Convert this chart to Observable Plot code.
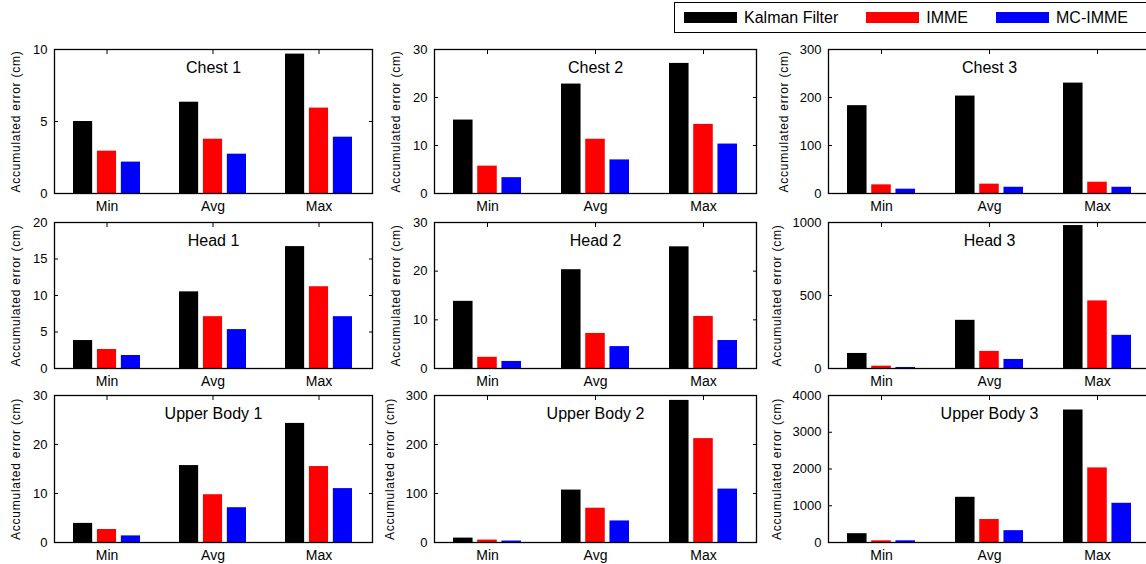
<!DOCTYPE html>
<html><head><meta charset="utf-8">
<script src="https://cdn.jsdelivr.net/npm/d3@7"></script>
<script src="https://cdn.jsdelivr.net/npm/@observablehq/plot@0.6"></script>
<style>
html,body{margin:0;padding:0;background:#fff;overflow:hidden;}
#root{position:relative;width:1146px;height:564px;overflow:hidden;font-family:"Liberation Sans",Arial,sans-serif;color:#000;background:#fff;}
.panel{position:absolute;}
.panel svg{overflow:visible;background:transparent;max-width:none !important;}
#legend{position:absolute;left:674px;top:2px;width:490px;height:31px;border:1px solid #000;box-sizing:border-box;display:flex;align-items:center;padding-left:9px;font-size:16px;background:#fff;}
.item{display:flex;align-items:center;margin-right:28px;white-space:nowrap;}
.sw{width:53px;height:11px;margin-right:7px;}
.ylab text{letter-spacing:0.75px;}
</style></head>
<body><div id="root"><div id="legend"></div></div>
<script>
// ---------- data ----------
const categories = ["Min", "Avg", "Max"];
const series = ["Kalman Filter", "IMME", "MC-IMME"];
const colors = ["#000000", "#ff0000", "#0000ff"];
const titles = ["Chest 1", "Chest 2", "Chest 3", "Head 1", "Head 2", "Head 3", "Upper Body 1", "Upper Body 2", "Upper Body 3"];
const yLabel = "Accumulated error (cm)";

// values: one row per series (Kalman, IMME, MC-IMME), columns Min/Avg/Max
const chest1 = [[5.0, 6.34, 9.68], [2.94, 3.77, 5.93], [2.18, 2.73, 3.91]];
const chest2 = [[15.3, 22.8, 27.1], [5.7, 11.3, 14.4], [3.3, 7.0, 10.3]];
const chest3 = [[183, 203, 230], [18, 19.5, 23.5], [9, 13, 13]];
const head1 = [[3.83, 10.5, 16.7], [2.6, 7.1, 11.2], [1.78, 5.33, 7.1]];
const head2 = [[13.8, 20.3, 25.0], [2.3, 7.2, 10.7], [1.45, 4.5, 5.75]];
const head3 = [[103, 330, 979], [16, 117, 463], [7, 62, 227]];
const upper1 = [[3.9, 15.7, 24.3], [2.65, 9.75, 15.5], [1.35, 7.1, 11.0]];
const upper2 = [[9, 107, 290], [5, 70, 212], [3, 44, 109]];
const upper3 = [[240, 1230, 3605], [46, 625, 2030], [46, 322, 1067]];
const panelValues = [chest1, chest2, chest3, head1, head2, head3, upper1, upper2, upper3];

const ticks1 = [0, 5, 10];
const ticks2 = [0, 10, 20, 30];
const ticks3 = [0, 100, 200, 300];
const ticks4 = [0, 5, 10, 15, 20];
const ticks5 = [0, 10, 20, 30];
const ticks6 = [0, 500, 1000];
const ticks7 = [0, 10, 20, 30];
const ticks8 = [0, 100, 200, 300];
const ticks9 = [0, 1000, 2000, 3000, 4000];
const panelTicks = [ticks1, ticks2, ticks3, ticks4, ticks5, ticks6, ticks7, ticks8, ticks9];

// ---------- layout ----------
const cols = [{left: 54, width: 318}, {left: 434, width: 322}, {left: 828, width: 322}];
const rows = [{top: 49, height: 144}, {top: 222, height: 146}, {top: 395, height: 147}];
const M = {left: 60, right: 6, top: 6, bottom: 26};
const padInner = 0.366, padOuter = 0.17;

const root = document.getElementById("root");

// legend
const legend = document.getElementById("legend");
series.forEach((s, i) => {
  const item = document.createElement("div");
  item.className = "item";
  const sw = document.createElement("div");
  sw.className = "sw";
  sw.style.background = colors[i];
  const t = document.createElement("span");
  t.textContent = s;
  item.appendChild(sw); item.appendChild(t);
  legend.appendChild(item);
});

const fmt = d => String(d);
const blank = () => "";

titles.forEach((title, p) => {
  const col = cols[p % 3], row = rows[Math.floor(p / 3)];
  const values = panelValues[p], ticks = panelTicks[p];
  const data = [];
  series.forEach((s, i) => categories.forEach((c, j) => data.push({series: s, category: c, value: values[i][j]})));
  const bw = col.width / (categories.length - padInner + 2 * padOuter) * (1 - padInner);
  const unit = bw / (3 * 20 + 2 * 4);
  const step = unit * 24;
  const maxLen = d3.max(ticks, t => String(t).length);
  const bars = series.map((s, i) => Plot.barY(data.filter(d => d.series === s), {
    x: "category", y: "value", fill: colors[i],
    insetLeft: i * step, insetRight: (series.length - 1 - i) * step
  }));
  const W = col.width + M.left + M.right, H = row.height + M.top + M.bottom;
  const chart = Plot.plot({
    width: W, height: H,
    marginLeft: M.left, marginRight: M.right, marginTop: M.top, marginBottom: M.bottom,
    style: {fontFamily: '"Liberation Sans", Arial, sans-serif', fontSize: "13px", color: "#000", background: "transparent", overflow: "visible"},
    x: {domain: categories, paddingInner: padInner, paddingOuter: padOuter, label: null, axis: null},
    y: {domain: [0, d3.max(ticks)], label: null, axis: null},
    marks: [
      ...bars,
      Plot.frame({stroke: "#000", strokeWidth: 1.3}),
      Plot.axisY(ticks, {anchor: "left", tickSize: 0, tickPadding: 7, tickFormat: fmt, label: null, labelArrow: "none"}),
      Plot.axisY(ticks, {anchor: "left", tickSize: -4, tickFormat: blank, label: null, labelArrow: "none"}),
      Plot.axisY(ticks, {anchor: "right", tickSize: -4, tickFormat: blank, label: null, labelArrow: "none"}),
      Plot.axisX({anchor: "bottom", tickSize: 0, tickPadding: 8, fontSize: 14, label: null, labelArrow: "none"}),
      Plot.axisX({anchor: "top", tickSize: -4, tickFormat: blank, label: null, labelArrow: "none"}),
      Plot.text([yLabel], {frameAnchor: "left", rotate: -90, textAnchor: "middle", lineAnchor: "top", dx: -(30 + 6.5 * maxLen), fontSize: 12, className: "ylab"}),
      Plot.text([title], {frameAnchor: "top", dy: 12, lineAnchor: "top", fontSize: 16})
    ]
  });
  const div = document.createElement("div");
  div.className = "panel";
  div.style.left = (col.left - M.left) + "px";
  div.style.top = (row.top - M.top) + "px";
  div.style.width = W + "px";
  div.style.height = H + "px";
  div.appendChild(chart);
  root.insertBefore(div, legend);
});
</script></body></html>
